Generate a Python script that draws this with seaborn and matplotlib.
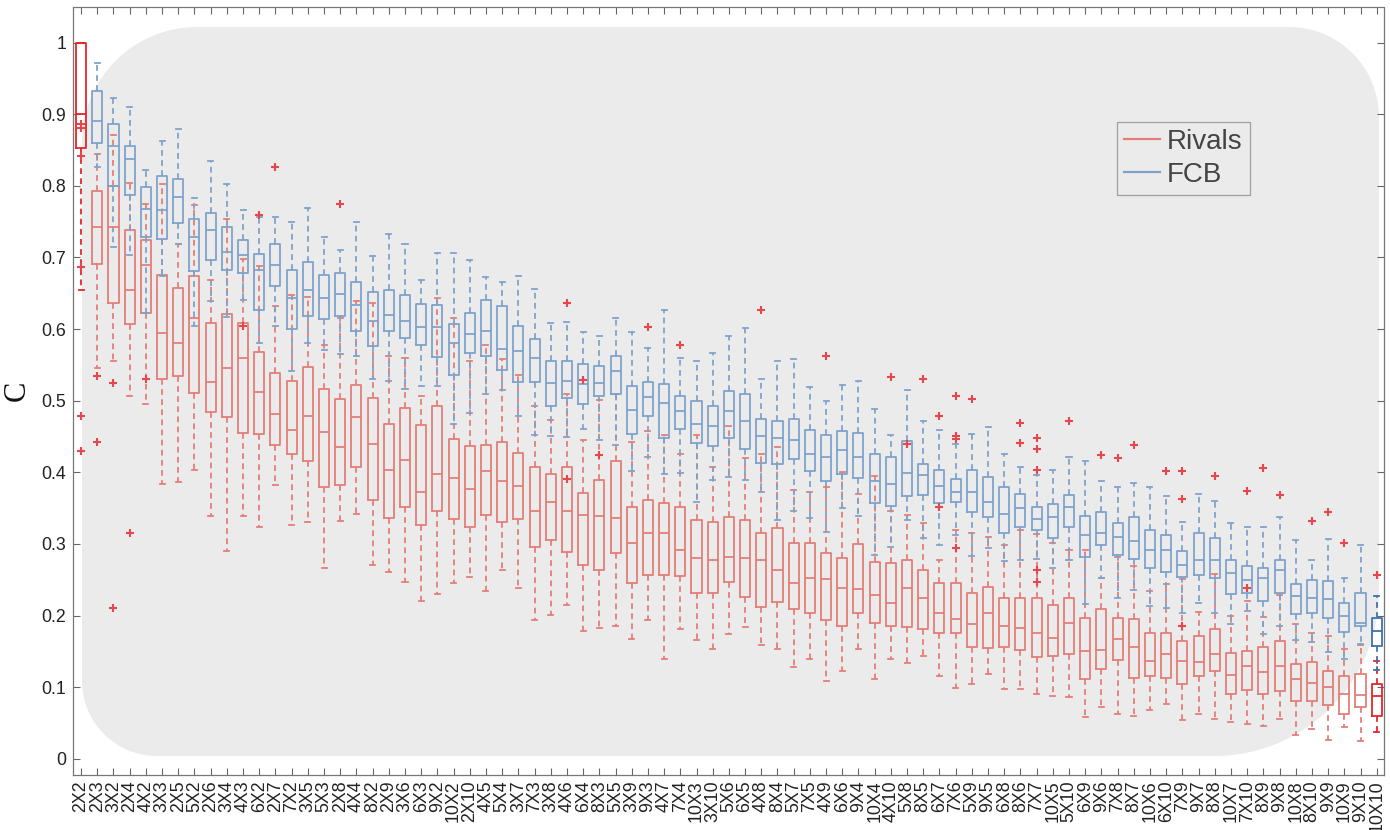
import numpy as np
import pandas as pd
import matplotlib
matplotlib.use("Agg")
import matplotlib.pyplot as plt
import seaborn as sns
from matplotlib.path import Path
from matplotlib.patches import PathPatch
from matplotlib.transforms import IdentityTransform
from matplotlib.lines import Line2D

# ---------------- data ----------------
labels = ["2X2", "2X3", "3X2", "2X4", "4X2", "3X3", "2X5", "5X2", "2X6", "3X4",
          "4X3", "6X2", "2X7", "7X2", "3X5", "5X3", "2X8", "4X4", "8X2", "2X9",
          "3X6", "6X3", "9X2", "10X2", "2X10", "4X5", "5X4", "3X7", "7X3", "3X8",
          "4X6", "6X4", "8X3", "5X5", "3X9", "9X3", "4X7", "7X4", "10X3", "3X10",
          "5X6", "6X5", "4X8", "8X4", "5X7", "7X5", "4X9", "6X6", "9X4", "10X4",
          "4X10", "5X8", "8X5", "6X7", "7X6", "5X9", "9X5", "6X8", "8X6", "7X7",
          "10X5", "5X10", "6X9", "9X6", "7X8", "8X7", "10X6", "6X10", "7X9", "9X7",
          "8X8", "10X7", "7X10", "8X9", "9X8", "10X8", "8X10", "9X9", "10X9", "9X10",
          "10X10"]

# Rivals: lower whisker, q1, median, q3, upper whisker
riv_lo = [0.655, 0.546, 0.556, 0.507, 0.495, 0.384, 0.387, 0.403, 0.339, 0.290,
          0.339, 0.323, 0.382, 0.327, 0.331, 0.267, 0.332, 0.342, 0.271, 0.261,
          0.247, 0.220, 0.230, 0.245, 0.254, 0.235, 0.263, 0.238, 0.194, 0.201,
          0.215, 0.178, 0.182, 0.185, 0.167, 0.194, 0.139, 0.181, 0.166, 0.154,
          0.174, 0.184, 0.159, 0.153, 0.128, 0.140, 0.108, 0.122, 0.153, 0.112,
          0.140, 0.134, 0.144, 0.115, 0.099, 0.104, 0.118, 0.098, 0.098, 0.090,
          0.088, 0.086, 0.059, 0.073, 0.063, 0.060, 0.068, 0.076, 0.054, 0.062,
          0.056, 0.051, 0.048, 0.046, 0.055, 0.033, 0.041, 0.027, 0.044, 0.025,
          0.038]
riv_q1 = [0.853, 0.691, 0.637, 0.607, 0.622, 0.530, 0.534, 0.511, 0.484, 0.477,
          0.455, 0.454, 0.438, 0.426, 0.416, 0.379, 0.382, 0.408, 0.362, 0.336,
          0.352, 0.327, 0.346, 0.335, 0.324, 0.341, 0.330, 0.335, 0.296, 0.305,
          0.289, 0.270, 0.264, 0.288, 0.245, 0.256, 0.257, 0.255, 0.232, 0.231,
          0.247, 0.226, 0.212, 0.219, 0.209, 0.204, 0.194, 0.185, 0.203, 0.190,
          0.185, 0.184, 0.181, 0.176, 0.175, 0.156, 0.155, 0.156, 0.152, 0.142,
          0.143, 0.147, 0.111, 0.125, 0.138, 0.113, 0.115, 0.113, 0.105, 0.116,
          0.122, 0.091, 0.096, 0.091, 0.095, 0.081, 0.081, 0.075, 0.062, 0.073,
          0.060]
riv_med = [0.900, 0.742, 0.742, 0.655, 0.690, 0.594, 0.580, 0.615, 0.526, 0.546,
           0.559, 0.512, 0.482, 0.459, 0.479, 0.457, 0.436, 0.477, 0.440, 0.403,
           0.417, 0.372, 0.397, 0.392, 0.377, 0.402, 0.388, 0.381, 0.346, 0.359,
           0.346, 0.341, 0.339, 0.336, 0.302, 0.315, 0.316, 0.291, 0.281, 0.278,
           0.282, 0.280, 0.278, 0.264, 0.245, 0.252, 0.251, 0.238, 0.237, 0.229,
           0.217, 0.239, 0.225, 0.204, 0.195, 0.188, 0.203, 0.186, 0.183, 0.176,
           0.169, 0.189, 0.150, 0.152, 0.168, 0.156, 0.136, 0.147, 0.136, 0.135,
           0.147, 0.117, 0.129, 0.121, 0.129, 0.111, 0.106, 0.101, 0.090, 0.089,
           0.088]
riv_q3 = [1.000, 0.793, 0.800, 0.739, 0.725, 0.676, 0.657, 0.674, 0.608, 0.621,
          0.609, 0.568, 0.539, 0.527, 0.547, 0.517, 0.503, 0.522, 0.504, 0.468,
          0.490, 0.466, 0.492, 0.447, 0.437, 0.438, 0.442, 0.427, 0.408, 0.398,
          0.408, 0.371, 0.390, 0.416, 0.352, 0.361, 0.357, 0.352, 0.333, 0.330,
          0.337, 0.334, 0.316, 0.322, 0.301, 0.302, 0.287, 0.280, 0.300, 0.275,
          0.274, 0.278, 0.264, 0.245, 0.246, 0.232, 0.240, 0.224, 0.224, 0.224,
          0.215, 0.225, 0.197, 0.209, 0.197, 0.195, 0.175, 0.176, 0.164, 0.171,
          0.181, 0.148, 0.151, 0.156, 0.165, 0.132, 0.135, 0.122, 0.116, 0.119,
          0.104]
riv_hi = [1.000, 0.844, 0.871, 0.804, 0.775, 0.803, 0.719, 0.773, 0.669, 0.754,
          0.698, 0.688, 0.632, 0.648, 0.645, 0.578, 0.616, 0.639, 0.636, 0.562,
          0.560, 0.507, 0.644, 0.615, 0.556, 0.578, 0.558, 0.536, 0.492, 0.473,
          0.510, 0.445, 0.501, 0.509, 0.443, 0.458, 0.452, 0.426, 0.452, 0.408,
          0.465, 0.420, 0.426, 0.436, 0.376, 0.373, 0.380, 0.401, 0.370, 0.395,
          0.346, 0.340, 0.329, 0.278, 0.319, 0.316, 0.310, 0.299, 0.319, 0.314,
          0.301, 0.292, 0.291, 0.252, 0.282, 0.269, 0.234, 0.244, 0.251, 0.205,
          0.258, 0.200, 0.220, 0.198, 0.229, 0.188, 0.176, 0.171, 0.153, 0.159,
          0.137]

nan = np.nan
# FCB: lower whisker, q1, median, q3, upper whisker
fcb_lo = [nan, 0.827, 0.714, 0.704, 0.622, 0.674, 0.719, 0.605, 0.639, 0.617,
          0.640, 0.580, 0.605, 0.542, 0.581, 0.571, 0.565, 0.563, 0.530, 0.528,
          0.516, 0.520, 0.520, 0.468, 0.483, 0.510, 0.515, 0.478, 0.452, 0.451,
          0.450, 0.461, 0.445, 0.438, 0.402, 0.422, 0.398, 0.399, 0.358, 0.389,
          0.393, 0.390, 0.372, 0.333, 0.346, 0.336, 0.317, 0.350, 0.339, 0.284,
          0.296, 0.333, 0.308, 0.298, 0.313, 0.283, 0.294, 0.276, 0.277, 0.279,
          0.267, 0.278, 0.216, 0.253, 0.225, 0.236, 0.214, 0.210, 0.203, 0.217,
          0.204, 0.188, 0.206, 0.174, 0.185, 0.166, 0.163, 0.149, 0.140, 0.160,
          0.124]
fcb_q1 = [nan, 0.860, 0.800, 0.787, 0.728, 0.726, 0.748, 0.681, 0.696, 0.682,
          0.679, 0.627, 0.660, 0.600, 0.618, 0.614, 0.618, 0.597, 0.577, 0.597,
          0.588, 0.578, 0.561, 0.536, 0.566, 0.562, 0.543, 0.526, 0.526, 0.492,
          0.504, 0.495, 0.507, 0.510, 0.454, 0.478, 0.448, 0.460, 0.441, 0.437,
          0.448, 0.433, 0.413, 0.412, 0.418, 0.402, 0.388, 0.397, 0.392, 0.357,
          0.353, 0.367, 0.368, 0.357, 0.358, 0.345, 0.337, 0.316, 0.323, 0.319,
          0.308, 0.324, 0.282, 0.298, 0.285, 0.279, 0.267, 0.261, 0.254, 0.256,
          0.253, 0.230, 0.231, 0.221, 0.232, 0.202, 0.204, 0.196, 0.177, 0.185,
          0.157]
fcb_med = [nan, 0.891, 0.855, 0.837, 0.768, 0.766, 0.785, 0.728, 0.739, 0.707,
           0.704, 0.683, 0.689, 0.643, 0.655, 0.644, 0.649, 0.633, 0.611, 0.620,
           0.611, 0.603, 0.603, 0.580, 0.593, 0.598, 0.572, 0.570, 0.559, 0.525,
           0.527, 0.523, 0.525, 0.541, 0.487, 0.505, 0.497, 0.485, 0.468, 0.465,
           0.486, 0.471, 0.451, 0.448, 0.445, 0.425, 0.422, 0.431, 0.422, 0.388,
           0.384, 0.399, 0.396, 0.381, 0.373, 0.373, 0.359, 0.342, 0.350, 0.335,
           0.337, 0.351, 0.313, 0.316, 0.310, 0.304, 0.292, 0.292, 0.271, 0.278,
           0.278, 0.260, 0.249, 0.253, 0.264, 0.228, 0.224, 0.223, 0.199, 0.190,
           0.179]
fcb_q3 = [nan, 0.933, 0.886, 0.855, 0.798, 0.814, 0.809, 0.754, 0.762, 0.742,
          0.724, 0.705, 0.719, 0.682, 0.693, 0.675, 0.678, 0.666, 0.652, 0.655,
          0.648, 0.635, 0.634, 0.607, 0.622, 0.641, 0.632, 0.604, 0.586, 0.556,
          0.556, 0.551, 0.549, 0.563, 0.520, 0.526, 0.523, 0.507, 0.500, 0.493,
          0.513, 0.509, 0.475, 0.472, 0.474, 0.459, 0.452, 0.458, 0.455, 0.426,
          0.422, 0.444, 0.412, 0.403, 0.391, 0.403, 0.394, 0.379, 0.370, 0.352,
          0.356, 0.368, 0.339, 0.344, 0.329, 0.337, 0.319, 0.312, 0.290, 0.315,
          0.309, 0.277, 0.269, 0.267, 0.278, 0.244, 0.250, 0.248, 0.218, 0.232,
          0.196]
fcb_hi = [nan, 0.971, 0.922, 0.910, 0.822, 0.862, 0.879, 0.783, 0.834, 0.803,
          0.766, 0.757, 0.757, 0.749, 0.769, 0.728, 0.711, 0.750, 0.702, 0.733,
          0.719, 0.669, 0.706, 0.706, 0.696, 0.673, 0.666, 0.674, 0.656, 0.609,
          0.610, 0.596, 0.590, 0.616, 0.596, 0.574, 0.626, 0.560, 0.555, 0.566,
          0.590, 0.601, 0.530, 0.556, 0.558, 0.519, 0.500, 0.522, 0.528, 0.488,
          0.452, 0.515, 0.472, 0.459, 0.440, 0.454, 0.464, 0.426, 0.407, 0.396,
          0.403, 0.422, 0.416, 0.388, 0.380, 0.385, 0.380, 0.367, 0.330, 0.370,
          0.360, 0.329, 0.323, 0.323, 0.337, 0.305, 0.278, 0.307, 0.253, 0.298,
          0.228]

# Rivals outliers (category, value)
out_cat = ["2X2", "2X2", "2X2", "2X2", "2X2", "2X2", "2X3", "2X3", "3X2", "3X2",
           "2X4", "4X2", "4X3", "6X2", "2X7", "2X8", "4X6", "4X6", "6X4", "8X3",
           "9X3", "7X4", "4X8", "4X9", "4X10", "5X8", "8X5", "6X7", "6X7", "7X6",
           "7X6", "7X6", "7X6", "5X9", "8X6", "8X6", "7X7", "7X7", "7X7", "7X7",
           "7X7", "5X10", "9X6", "7X8", "8X7", "6X10", "7X9", "7X9", "7X9", "8X8",
           "7X10", "7X10", "8X9", "9X8", "8X10", "9X9", "10X9", "10X10"]
out_val = [0.886, 0.881, 0.842, 0.687, 0.479, 0.430, 0.534, 0.442, 0.525, 0.211,
           0.316, 0.530, 0.605, 0.759, 0.827, 0.775, 0.636, 0.391, 0.529, 0.424,
           0.603, 0.578, 0.627, 0.562, 0.533, 0.440, 0.531, 0.478, 0.351, 0.507,
           0.451, 0.447, 0.295, 0.503, 0.469, 0.441, 0.448, 0.433, 0.403, 0.263,
           0.247, 0.472, 0.424, 0.420, 0.438, 0.402, 0.402, 0.363, 0.185, 0.395,
           0.374, 0.238, 0.406, 0.369, 0.332, 0.345, 0.302, 0.257]

highlight = ["2X2", "10X10"]

# ---------------- styling ----------------
W, H, DPI = 1390, 830, 100
RIV = "#E47E79"
FCB = "#7FA2CB"
RIV_HL = "#E3262B"
FCB_HL = "#3D72B0"
PLUS = "#E5474C"
BG = "#EBEBEB"
sans = ["Liberation Sans", "DejaVu Sans"]
plt.rcParams["font.family"] = sans


def long_frame(lo, q1, med, q3, hi, cats):
    rows = []
    for i, c in enumerate(labels):
        if c not in cats or np.isnan(med[i]):
            continue
        for v in (lo[i], q1[i], med[i], q3[i], hi[i]):
            rows.append((c, v))
    return pd.DataFrame(rows, columns=["cat", "val"])


fig = plt.figure(figsize=(W / DPI, H / DPI), dpi=DPI, facecolor="white")
ax = fig.add_axes([73 / W, (H - 774.6) / H, (1384 - 73) / W, (774.6 - 7.5) / H])
ax.set_facecolor("white")

# rounded gray backdrop (pixel coordinates)
def rounded(x0, y0, x1, y1, tl, tr, br, bl):
    k = 0.5523
    v = [(x0 + bl, y0), (x1 - br, y0),
         (x1 - br + k * br, y0), (x1, y0 + br - k * br), (x1, y0 + br),
         (x1, y1 - tr),
         (x1, y1 - tr + k * tr), (x1 - tr + k * tr, y1), (x1 - tr, y1),
         (x0 + tl, y1),
         (x0 + tl - k * tl, y1), (x0, y1 - tl + k * tl), (x0, y1 - tl),
         (x0, y0 + bl),
         (x0, y0 + bl - k * bl), (x0 + bl - k * bl, y0), (x0 + bl, y0),
         (x0 + bl, y0)]
    c = [Path.MOVETO, Path.LINETO,
         Path.CURVE4, Path.CURVE4, Path.CURVE4,
         Path.LINETO,
         Path.CURVE4, Path.CURVE4, Path.CURVE4,
         Path.LINETO,
         Path.CURVE4, Path.CURVE4, Path.CURVE4,
         Path.LINETO,
         Path.CURVE4, Path.CURVE4, Path.CURVE4,
         Path.CLOSEPOLY]
    return Path(v, c)

bgpatch = PathPatch(rounded(82, H - 756, 1379, H - 27, 115, 90, 165, 75),
                    facecolor=BG, edgecolor="none", transform=IdentityTransform(),
                    zorder=0.5)
ax.add_artist(bgpatch)

common = dict(x="cat", y="val", order=labels, fill=False, width=0.62,
              whis=(0, 100), showfliers=False, linewidth=1.3,
              whiskerprops=dict(linestyle=(0, (3.2, 2.4))), ax=ax)

main_cats = [c for c in labels if c not in highlight]
sns.boxplot(data=long_frame(riv_lo, riv_q1, riv_med, riv_q3, riv_hi, main_cats),
            color=RIV, **common)
sns.boxplot(data=long_frame(riv_lo, riv_q1, riv_med, riv_q3, riv_hi, highlight),
            color=RIV_HL, **common)
sns.boxplot(data=long_frame(fcb_lo, fcb_q1, fcb_med, fcb_q3, fcb_hi, main_cats),
            color=FCB, **common)
sns.boxplot(data=long_frame(fcb_lo, fcb_q1, fcb_med, fcb_q3, fcb_hi, ["10X10"]),
            color=FCB_HL, **common)

outs = pd.DataFrame({"pos": [labels.index(c) for c in out_cat], "val": out_val})
sns.scatterplot(data=outs, x="pos", y="val", marker="+", color=PLUS, s=40,
                linewidth=1.5, ax=ax, zorder=3, legend=False)

# axes styling
ax.set_xlim(-0.5, 80.45)
ax.set_ylim(-0.022, 1.049)
ax.set_xticks(range(len(labels)))
ax.set_xticklabels(labels, rotation=90, fontsize=12.8, color="#222222")
yt = np.round(np.arange(0, 1.01, 0.1), 1)
ax.set_yticks(yt)
ax.set_yticklabels([f"{v:g}" for v in yt], fontsize=12.8, color="#222222")
ax.tick_params(direction="in", top=True, right=True, length=5, width=0.8,
               color="#666666", pad=4)
ax.tick_params(axis="y", pad=5)
ax.set_xlabel("")
ax.set_ylabel("C", fontsize=22, family=["Liberation Serif", "DejaVu Serif"],
              labelpad=7, color="#111111")
for s in ax.spines.values():
    s.set_color("#777777")
    s.set_linewidth(0.9)

handles = [Line2D([], [], color=RIV, lw=1.6), Line2D([], [], color=FCB, lw=1.6)]
leg = ax.legend(handles, ["Rivals", "FCB"], loc="upper left",
                bbox_to_anchor=(0.7963, 0.8507), fontsize=20, frameon=True,
                fancybox=False, edgecolor="#A0A0A0", facecolor=BG, framealpha=1,
                borderpad=0.25, labelspacing=0.25, handlelength=1.3,
                handletextpad=0.25, borderaxespad=0)
leg.get_frame().set_linewidth(0.9)
for t in leg.get_texts():
    t.set_color("#444444")

fig.savefig("out.png", dpi=DPI, facecolor="white")
